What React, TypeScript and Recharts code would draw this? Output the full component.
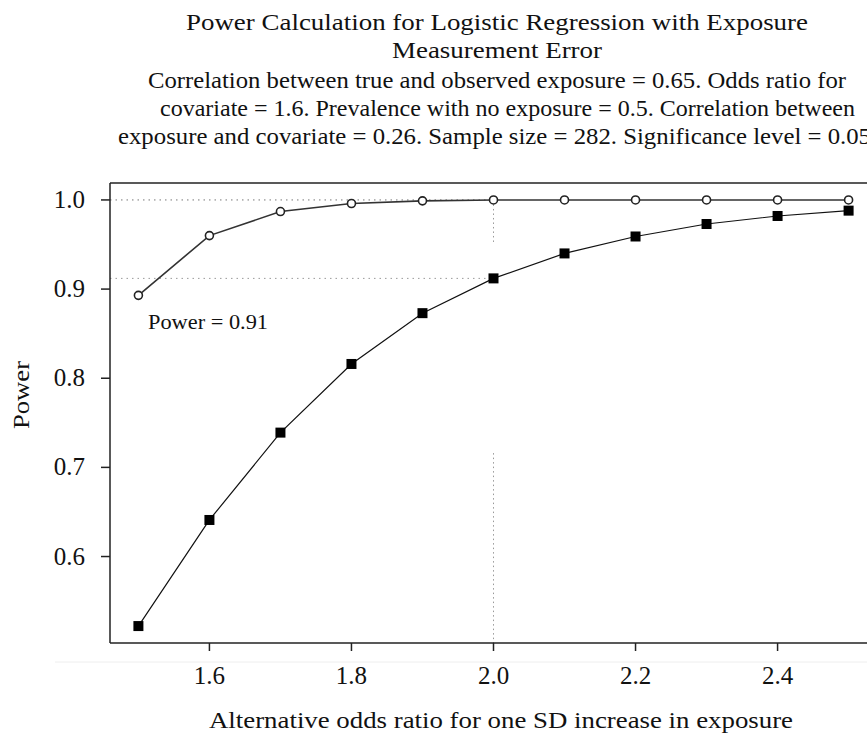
import { Line, LineChart, ReferenceLine, XAxis, YAxis } from 'recharts';

const oddsRatios = [1.5, 1.6, 1.7, 1.8, 1.9, 2.0, 2.1, 2.2, 2.3, 2.4, 2.5];
const powerNoError = [0.893, 0.96, 0.987, 0.996, 0.999, 1.0, 1.0, 1.0, 1.0, 1.0, 1.0];
const powerWithError = [0.522, 0.641, 0.739, 0.816, 0.873, 0.912, 0.94, 0.959, 0.973, 0.982, 0.988];
const xTicks = [1.6, 1.8, 2.0, 2.2, 2.4];
const yTicks = [0.6, 0.7, 0.8, 0.9, 1.0];
const targetOdds = 2.0;
const targetPower = 0.912;

const xDomain = [1.46, 2.54];
const yDomain = [0.503, 1.019];

const data = oddsRatios.map((x, i) => ({ x, noError: powerNoError[i], withError: powerWithError[i] }));

const font = 'Liberation Serif, Times New Roman, serif';

const XTick = (p: any) => (
  <text x={p.x} y={p.y + 31} textAnchor="middle" fontFamily={font} fontSize={25} fill="#111">
    {Number(p.payload.value).toFixed(1)}
  </text>
);
const YTick = (p: any) => (
  <text x={85} y={p.y + 8} textAnchor="end" fontFamily={font} fontSize={25} fill="#111">
    {Number(p.payload.value).toFixed(1)}
  </text>
);

const circleDot = (p: any) => (
  <circle key={`c-${p.index}`} cx={p.cx} cy={p.cy} r={4} fill="#fff" stroke="#222" strokeWidth={1.6} />
);
const squareDot = (p: any) => (
  <rect key={`s-${p.index}`} x={p.cx - 5} y={p.cy - 5} width={10} height={10} fill="#000" />
);

export default function App() {
  return (
    <div style={{ position: 'absolute', left: 0, top: 0, width: 867, height: 738, overflow: 'hidden', background: '#fff' }}>
      <LineChart width={900} height={703} data={data} margin={{ top: 183, right: 23, left: 50, bottom: 0 }}>
        <XAxis
          dataKey="x"
          type="number"
          domain={xDomain}
          ticks={xTicks}
          tick={XTick}
          tickSize={8}
          height={60}
          stroke="#222"
          strokeWidth={1.5}
          allowDataOverflow
        />
        <YAxis
          type="number"
          domain={yDomain}
          ticks={yTicks}
          tick={YTick}
          tickSize={9}
          width={60}
          stroke="#222"
          strokeWidth={1.5}
          allowDataOverflow
        />
        <ReferenceLine y={yDomain[1]} stroke="#222" strokeWidth={1.5} />
        <ReferenceLine
          segment={[{ x: xDomain[0], y: 1.0 }, { x: targetOdds, y: 1.0 }]}
          stroke="#777"
          strokeDasharray="1.5 4"
        />
        <ReferenceLine
          segment={[{ x: xDomain[0], y: targetPower }, { x: targetOdds, y: targetPower }]}
          stroke="#999"
          strokeDasharray="1.5 4"
        />
        <ReferenceLine
          segment={[{ x: targetOdds, y: 1.0 }, { x: targetOdds, y: 0.95 }]}
          stroke="#999"
          strokeDasharray="1.5 3"
        />
        <ReferenceLine
          segment={[{ x: targetOdds, y: 0.716 }, { x: targetOdds, y: yDomain[0] }]}
          stroke="#999"
          strokeDasharray="1.5 3"
        />
        <Line
          dataKey="noError"
          stroke="#333"
          strokeWidth={1.6}
          dot={circleDot}
          isAnimationActive={false}
        />
        <Line
          dataKey="withError"
          stroke="#111"
          strokeWidth={1.2}
          dot={squareDot}
          isAnimationActive={false}
        />
      </LineChart>
      <svg
        width={867}
        height={738}
        style={{ position: 'absolute', left: 0, top: 0, pointerEvents: 'none' }}
        fontFamily={font}
        fill="#111"
      >
        <text x={186} y={30} fontSize={24} textLength={622} lengthAdjust="spacingAndGlyphs">
          Power Calculation for Logistic Regression with Exposure
        </text>
        <text x={392} y={58} fontSize={24} textLength={210} lengthAdjust="spacingAndGlyphs">
          Measurement Error
        </text>
        <text x={148} y={88} fontSize={23} textLength={698} lengthAdjust="spacingAndGlyphs">
          Correlation between true and observed exposure = 0.65. Odds ratio for
        </text>
        <text x={160} y={116} fontSize={23} textLength={695} lengthAdjust="spacingAndGlyphs">
          covariate = 1.6. Prevalence with no exposure = 0.5. Correlation between
        </text>
        <text x={118} y={144} fontSize={23} textLength={753} lengthAdjust="spacingAndGlyphs">
          exposure and covariate = 0.26. Sample size = 282. Significance level = 0.05
        </text>
        <text x={148} y={329} fontSize={20} textLength={120} lengthAdjust="spacingAndGlyphs">
          Power = 0.91
        </text>
        <line x1={55} y1={662} x2={867} y2={662} stroke="#eee" strokeWidth={1} />
        <text x={209} y={728} fontSize={24} textLength={584} lengthAdjust="spacingAndGlyphs">
          Alternative odds ratio for one SD increase in exposure
        </text>
        <text
          x={0}
          y={0}
          fontSize={24}
          textAnchor="middle"
          textLength={68}
          lengthAdjust="spacingAndGlyphs"
          transform="translate(29 395) rotate(-90)"
        >
          Power
        </text>
      </svg>
    </div>
  );
}
